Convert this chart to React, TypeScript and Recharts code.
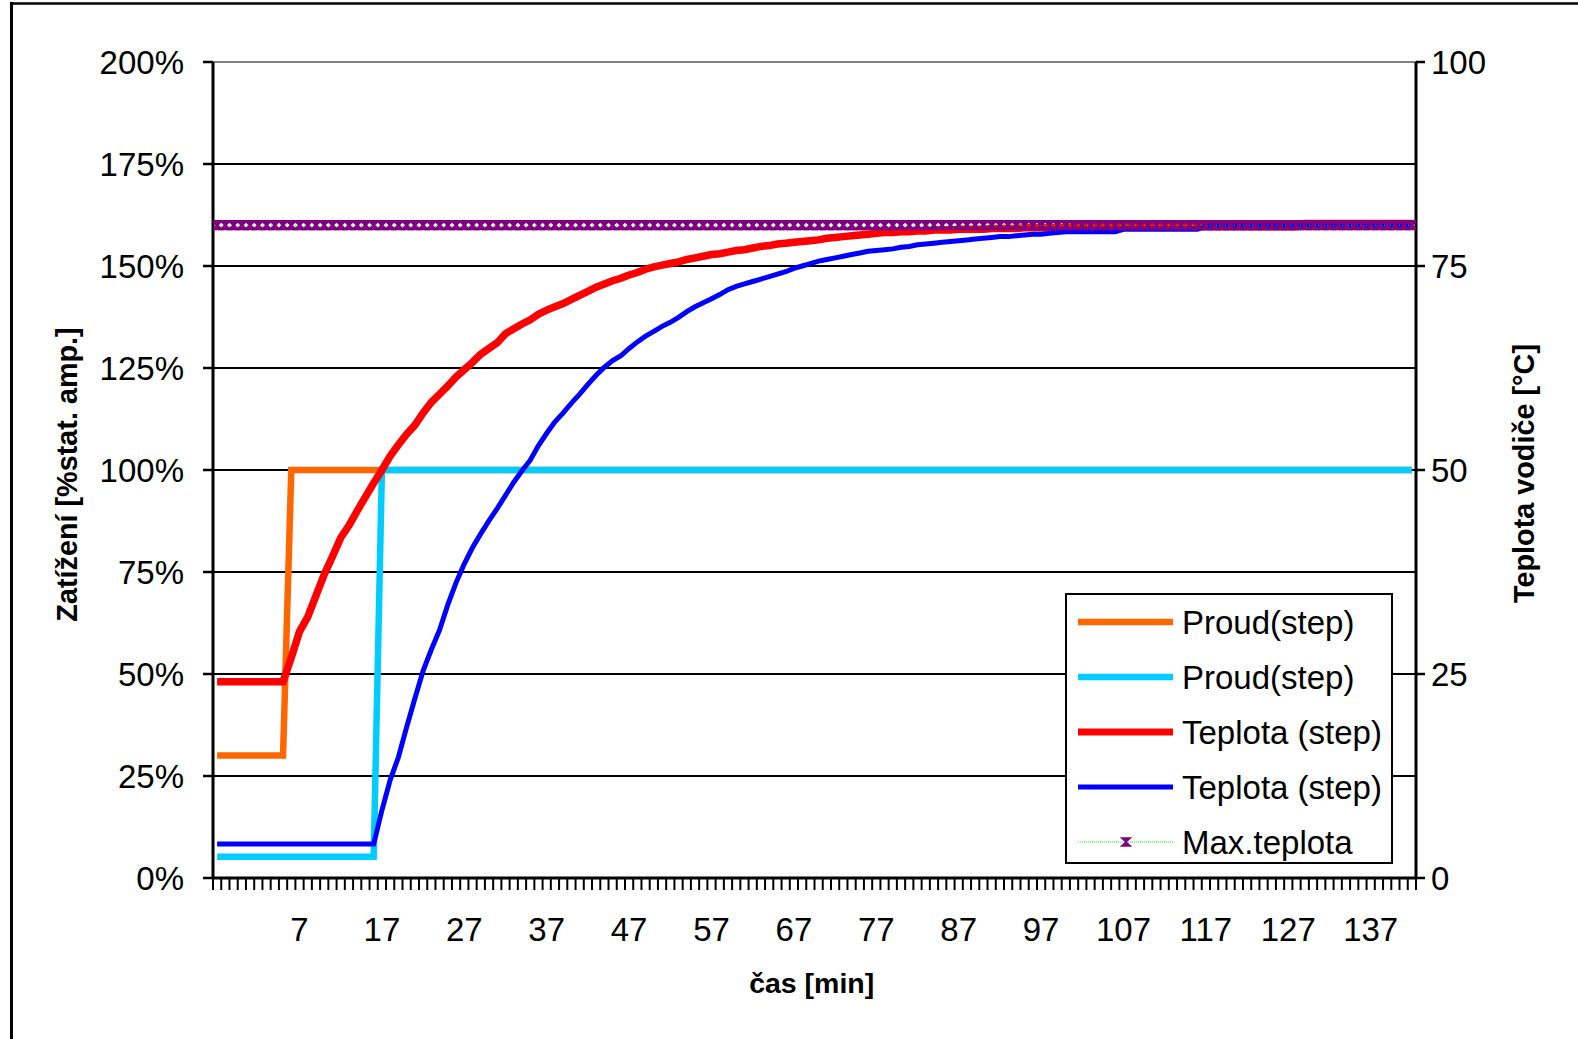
import React from 'react';
import { LineChart, Line, XAxis, YAxis, CartesianGrid, Legend } from 'recharts';

const FONT = '"Liberation Sans", Arial, Helvetica, sans-serif';

// time [min], one value per minute
const minutes = [
  -3, -2, -1, 0, 1, 2, 3, 4, 5, 6,
  7, 8, 9, 10, 11, 12, 13, 14, 15, 16,
  17, 18, 19, 20, 21, 22, 23, 24, 25, 26,
  27, 28, 29, 30, 31, 32, 33, 34, 35, 36,
  37, 38, 39, 40, 41, 42, 43, 44, 45, 46,
  47, 48, 49, 50, 51, 52, 53, 54, 55, 56,
  57, 58, 59, 60, 61, 62, 63, 64, 65, 66,
  67, 68, 69, 70, 71, 72, 73, 74, 75, 76,
  77, 78, 79, 80, 81, 82, 83, 84, 85, 86,
  87, 88, 89, 90, 91, 92, 93, 94, 95, 96,
  97, 98, 99, 100, 101, 102, 103, 104, 105, 106,
  107, 108, 109, 110, 111, 112, 113, 114, 115, 116,
  117, 118, 119, 120, 121, 122, 123, 124, 125, 126,
  127, 128, 129, 130, 131, 132, 133, 134, 135, 136,
  137, 138, 139, 140, 141, 142,
];

const xLabels = [7, 17, 27, 37, 47, 57, 67, 77, 87, 97, 107, 117, 127, 137];
const loadTicks = [0, 25, 50, 75, 100, 125, 150, 175, 200];
const tempTicks = [0, 25, 50, 75, 100];

// Proud(step) orange [% stat. amp.]
const proudA = [
  30, 30, 30, 30, 30, 30, 30, 30, 30, 100,
  100, 100, 100, 100, 100, 100, 100, 100, 100, 100,
  100, 100, 100, 100, 100, 100, 100, 100, 100, 100,
  100, 100, 100, 100, 100, 100, 100, 100, 100, 100,
  100, 100, 100, 100, 100, 100, 100, 100, 100, 100,
  100, 100, 100, 100, 100, 100, 100, 100, 100, 100,
  100, 100, 100, 100, 100, 100, 100, 100, 100, 100,
  100, 100, 100, 100, 100, 100, 100, 100, 100, 100,
  100, 100, 100, 100, 100, 100, 100, 100, 100, 100,
  100, 100, 100, 100, 100, 100, 100, 100, 100, 100,
  100, 100, 100, 100, 100, 100, 100, 100, 100, 100,
  100, 100, 100, 100, 100, 100, 100, 100, 100, 100,
  100, 100, 100, 100, 100, 100, 100, 100, 100, 100,
  100, 100, 100, 100, 100, 100, 100, 100, 100, 100,
  100, 100, 100, 100, 100, 100,
];

// Proud(step) cyan [% stat. amp.]
const proudB = [
  5.2, 5.2, 5.2, 5.2, 5.2, 5.2, 5.2, 5.2, 5.2, 5.2,
  5.2, 5.2, 5.2, 5.2, 5.2, 5.2, 5.2, 5.2, 5.2, 5.2,
  100, 100, 100, 100, 100, 100, 100, 100, 100, 100,
  100, 100, 100, 100, 100, 100, 100, 100, 100, 100,
  100, 100, 100, 100, 100, 100, 100, 100, 100, 100,
  100, 100, 100, 100, 100, 100, 100, 100, 100, 100,
  100, 100, 100, 100, 100, 100, 100, 100, 100, 100,
  100, 100, 100, 100, 100, 100, 100, 100, 100, 100,
  100, 100, 100, 100, 100, 100, 100, 100, 100, 100,
  100, 100, 100, 100, 100, 100, 100, 100, 100, 100,
  100, 100, 100, 100, 100, 100, 100, 100, 100, 100,
  100, 100, 100, 100, 100, 100, 100, 100, 100, 100,
  100, 100, 100, 100, 100, 100, 100, 100, 100, 100,
  100, 100, 100, 100, 100, 100, 100, 100, 100, 100,
  100, 100, 100, 100, 100, 100,
];

// Teplota (step) red [°C]
const teplotaA = [
  24.05, 24.05, 24.05, 24.05, 24.05, 24.05, 24.05, 24.05, 24.05, 27.0,
  30.2, 32.0, 34.6, 37.2, 39.4, 41.7, 43.2, 45.0, 46.7, 48.4,
  50.0, 51.7, 53.1, 54.4, 55.5, 57.0, 58.3, 59.3, 60.3, 61.4,
  62.3, 63.2, 64.2, 64.9, 65.6, 66.7, 67.3, 67.9, 68.4, 69.1,
  69.6, 70.0, 70.4, 70.9, 71.4, 71.9, 72.4, 72.8, 73.2, 73.5,
  73.9, 74.2, 74.6, 74.9, 75.1, 75.3, 75.5, 75.8, 76.0, 76.2,
  76.4, 76.5, 76.7, 76.9, 77.0, 77.2, 77.4, 77.5, 77.7, 77.8,
  77.9, 78.0, 78.1, 78.2, 78.4, 78.5, 78.6, 78.7, 78.8, 78.9,
  79.0, 79.1, 79.1, 79.2, 79.2, 79.3, 79.3, 79.4, 79.4, 79.4,
  79.5, 79.5, 79.5, 79.5, 79.6, 79.6, 79.6, 79.6, 79.7, 79.7,
  79.7, 79.7, 79.7, 79.7, 79.8, 79.8, 79.8, 79.8, 79.8, 79.8,
  79.8, 79.8, 79.8, 79.8, 79.8, 79.8, 79.8, 79.8, 79.8, 79.8,
  79.8, 79.8, 79.8, 79.8, 79.8, 79.8, 79.8, 79.8, 79.8, 79.8,
  79.8, 79.8, 80.2, 80.2, 80.2, 80.2, 80.2, 80.2, 80.2, 80.2,
  80.2, 80.2, 80.2, 80.2, 80.2, 80.2,
];

// Teplota (step) blue [°C]
const teplotaB = [
  4.17, 4.17, 4.17, 4.17, 4.17, 4.17, 4.17, 4.17, 4.17, 4.17,
  4.17, 4.17, 4.17, 4.17, 4.17, 4.17, 4.17, 4.17, 4.17, 4.17,
  8.3, 12.0, 14.8, 18.5, 22.0, 25.4, 28.0, 30.4, 33.5, 36.2,
  38.5, 40.5, 42.2, 43.8, 45.3, 46.9, 48.5, 49.9, 51.2, 53.0,
  54.5, 55.9, 57.0, 58.2, 59.3, 60.5, 61.6, 62.6, 63.4, 64.0,
  64.9, 65.7, 66.4, 67.0, 67.6, 68.1, 68.7, 69.4, 70.0, 70.5,
  71.0, 71.5, 72.1, 72.5, 72.8, 73.1, 73.4, 73.7, 74.0, 74.3,
  74.7, 75.0, 75.3, 75.6, 75.8, 76.0, 76.2, 76.4, 76.6, 76.8,
  76.9, 77.0, 77.1, 77.3, 77.4, 77.6, 77.7, 77.8, 77.9, 78.0,
  78.1, 78.2, 78.3, 78.4, 78.5, 78.6, 78.6, 78.7, 78.8, 78.9,
  78.9, 79.0, 79.1, 79.2, 79.2, 79.2, 79.2, 79.2, 79.2, 79.2,
  79.5, 79.5, 79.5, 79.5, 79.5, 79.5, 79.5, 79.5, 79.5, 79.5,
  79.9, 79.9, 79.9, 79.9, 79.9, 79.9, 79.9, 79.9, 79.9, 79.9,
  79.9, 79.9, 79.9, 79.9, 79.9, 79.9, 79.9, 79.9, 79.9, 79.9,
  79.9, 79.9, 79.9, 79.9, 79.9, 79.9,
];

// Max.teplota [°C]
const maxTeplota = [
  80, 80, 80, 80, 80, 80, 80, 80, 80, 80,
  80, 80, 80, 80, 80, 80, 80, 80, 80, 80,
  80, 80, 80, 80, 80, 80, 80, 80, 80, 80,
  80, 80, 80, 80, 80, 80, 80, 80, 80, 80,
  80, 80, 80, 80, 80, 80, 80, 80, 80, 80,
  80, 80, 80, 80, 80, 80, 80, 80, 80, 80,
  80, 80, 80, 80, 80, 80, 80, 80, 80, 80,
  80, 80, 80, 80, 80, 80, 80, 80, 80, 80,
  80, 80, 80, 80, 80, 80, 80, 80, 80, 80,
  80, 80, 80, 80, 80, 80, 80, 80, 80, 80,
  80, 80, 80, 80, 80, 80, 80, 80, 80, 80,
  80, 80, 80, 80, 80, 80, 80, 80, 80, 80,
  80, 80, 80, 80, 80, 80, 80, 80, 80, 80,
  80, 80, 80, 80, 80, 80, 80, 80, 80, 80,
  80, 80, 80, 80, 80, 80,
];

const rows = minutes.map((t, i) => ({
  t,
  proudA: proudA[i],
  proudB: proudB[i],
  teplotaA: teplotaA[i],
  teplotaB: teplotaB[i],
  maxT: maxTeplota[i],
}));

// minor tick marks sit between the minutes (Excel category axis), labels on the minutes
const boundaryTicks = minutes.map((m) => m - 0.5).concat([minutes[minutes.length - 1] + 0.5]);
const xTicks = [...boundaryTicks, ...xLabels].sort((a, b) => a - b);

const legendItems = [
  { name: 'Proud(step)', color: '#FF6600', width: 6.5 },
  { name: 'Proud(step)', color: '#00CCFF', width: 6.5 },
  { name: 'Teplota (step)', color: '#FF0000', width: 7 },
  { name: 'Teplota (step)', color: '#0000FF', width: 5 },
  { name: 'Max.teplota', color: '#00FF00', width: 1, marker: true },
];

const PURPLE = '#800080';

const markerPath = (cx: number, cy: number) =>
  `M${cx - 4.4},${cy - 4}L${cx + 4.4},${cy - 4}L${cx - 4.4},${cy + 4}L${cx + 4.4},${cy + 4}Z`;

function TimeTick(props: any) {
  const { x, y, payload } = props;
  const v = payload.value;
  if (Number.isInteger(v)) {
    return (
      <text x={x} y={y + 63} textAnchor="middle" fontSize={33} fontFamily={FONT} fill="#000">
        {v}
      </text>
    );
  }
  return <line x1={x} x2={x} y1={y} y2={y + 12} stroke="#000" strokeWidth={2} />;
}

function LegendBox() {
  return (
    <div style={{ width: 328, height: 271, border: '2px solid #000', boxSizing: 'border-box', background: '#fff' }}>
      <svg width={324} height={267} style={{ display: 'block' }}>
        {legendItems.map((it, i) => {
          const cy = 27 + i * 55;
          return (
            <g key={i}>
              <line
                x1={11}
                x2={106}
                y1={cy}
                y2={cy}
                stroke={it.color}
                strokeWidth={it.width}
                strokeDasharray={it.marker ? '1 1' : undefined}
              />
              {it.marker && <path d={markerPath(59, cy)} fill={PURPLE} stroke={PURPLE} strokeWidth={1.5} />}
              <text x={115} y={cy + 12} fontSize={33} fontFamily={FONT} fill="#000">
                {it.name}
              </text>
            </g>
          );
        })}
      </svg>
    </div>
  );
}

export default function App() {
  return (
    <div
      style={{
        position: 'absolute',
        left: 0,
        top: 0,
        width: 1578,
        height: 1039,
        overflow: 'hidden',
        background: '#fff',
        fontFamily: FONT,
      }}
    >
      <LineChart width={1578} height={1039} data={rows} margin={{ top: 62, right: 42, bottom: 101, left: 93 }}>
        <CartesianGrid
          xAxisId="m"
          yAxisId="left"
          vertical={false}
          horizontal={(p: any) => (
            <line
              key={`h-${p.y1}`}
              x1={p.x1}
              x2={p.x2}
              y1={p.y1}
              y2={p.y2}
              stroke={p.y1 < 64 ? '#808080' : '#000'}
              strokeWidth={2}
            />
          )}
        />
        <XAxis
          xAxisId="m"
          type="number"
          dataKey="t"
          domain={[-3.5, 142.5]}
          allowDataOverflow
          ticks={xTicks}
          interval={0}
          tick={<TimeTick />}
          tickLine={false}
          tickSize={0}
          tickMargin={0}
          axisLine={{ stroke: '#000', strokeWidth: 3 }}
          height={60}
        />
        <YAxis
          yAxisId="left"
          domain={[0, 200]}
          allowDataOverflow
          ticks={loadTicks}
          interval={0}
          tickFormatter={(v) => `${v}%`}
          width={120}
          tickSize={10}
          tickMargin={19}
          tick={{ fontSize: 33, fill: '#000', fontFamily: FONT }}
          tickLine={{ stroke: '#000', strokeWidth: 2.5 }}
          axisLine={{ stroke: '#000', strokeWidth: 3 }}
        />
        <YAxis
          yAxisId="right"
          orientation="right"
          domain={[0, 100]}
          allowDataOverflow
          ticks={tempTicks}
          interval={0}
          width={120}
          tickSize={9}
          tickMargin={6}
          tick={{ fontSize: 33, fill: '#000', fontFamily: FONT, textAnchor: 'start' }}
          tickLine={{ stroke: '#000', strokeWidth: 2.5 }}
          axisLine={{ stroke: '#000', strokeWidth: 3 }}
        />
        <Line
          xAxisId="m"
          yAxisId="left"
          dataKey="proudA"
          name="Proud(step)"
          type="linear"
          stroke="#FF6600"
          strokeWidth={6.5}
          dot={false}
          isAnimationActive={false}
        />
        <Line
          xAxisId="m"
          yAxisId="left"
          dataKey="proudB"
          name="Proud(step)"
          type="linear"
          stroke="#00CCFF"
          strokeWidth={6.5}
          dot={false}
          isAnimationActive={false}
        />
        <Line
          xAxisId="m"
          yAxisId="right"
          dataKey="teplotaA"
          name="Teplota (step)"
          type="linear"
          stroke="#FF0000"
          strokeWidth={7.5}
          dot={false}
          isAnimationActive={false}
        />
        <Line
          xAxisId="m"
          yAxisId="right"
          dataKey="teplotaB"
          name="Teplota (step)"
          type="linear"
          stroke="#0000FF"
          strokeWidth={5}
          dot={false}
          isAnimationActive={false}
        />
        <Line
          xAxisId="m"
          yAxisId="right"
          dataKey="maxT"
          name="Max.teplota"
          type="linear"
          stroke="#00FF00"
          strokeWidth={1}
          strokeDasharray="1 2"
          dot={(p: any) => (
            <path key={`mx-${p.index}`} d={markerPath(p.cx, p.cy)} fill={PURPLE} stroke={PURPLE} strokeWidth={2.2} />
          )}
          isAnimationActive={false}
        />
        <Legend
          layout="vertical"
          align="center"
          verticalAlign="middle"
          content={() => <LegendBox />}
          wrapperStyle={{ position: 'absolute', left: 1065, top: 593, width: 328, height: 271 }}
        />
      </LineChart>
      <svg
        width={1578}
        height={1039}
        style={{ position: 'absolute', left: 0, top: 0, pointerEvents: 'none' }}
      >
        <line x1={11.5} x2={11.5} y1={2} y2={1039} stroke="#000" strokeWidth={3} />
        <line x1={10} x2={1578} y1={3.5} y2={3.5} stroke="#000" strokeWidth={2.7} />
        <text
          x={77}
          y={474.5}
          transform="rotate(-90 77 474.5)"
          textAnchor="middle"
          fontSize={28.8}
          fontWeight="bold"
          fontFamily={FONT}
          fill="#000"
        >
          Zatížení [%stat. amp.]
        </text>
        <text
          x={1534}
          y={473.5}
          transform="rotate(-90 1534 473.5)"
          textAnchor="middle"
          fontSize={28.8}
          fontWeight="bold"
          fontFamily={FONT}
          fill="#000"
        >
          Teplota vodiče [°C]
        </text>
        <text x={811.7} y={993} textAnchor="middle" fontSize={28.5} fontWeight="bold" fontFamily={FONT} fill="#000">
          čas [min]
        </text>
      </svg>
    </div>
  );
}
